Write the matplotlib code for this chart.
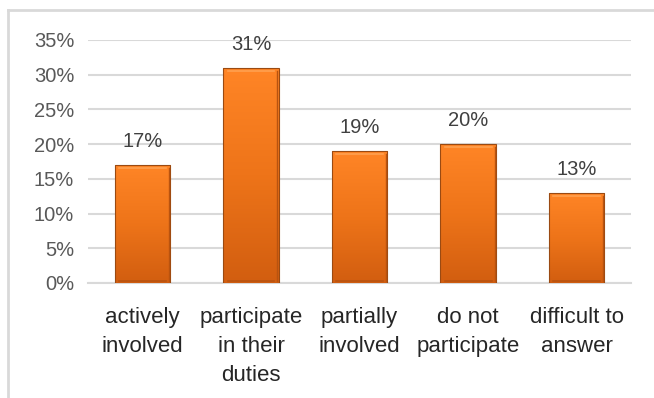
import numpy as np
import matplotlib.pyplot as plt
from matplotlib.colors import LinearSegmentedColormap
from matplotlib.patches import Rectangle

categories = ['actively\ninvolved', 'participate\nin their\nduties', 'partially\ninvolved',
              'do not\nparticipate', 'difficult to\nanswer']
values = [0.17, 0.31, 0.19, 0.20, 0.13]
labels = ['17%', '31%', '19%', '20%', '13%']
yticks = [0, 0.05, 0.10, 0.15, 0.20, 0.25, 0.30, 0.35]
ytick_labels = ['0%', '5%', '10%', '15%', '20%', '25%', '30%', '35%']

plt.rcParams['font.family'] = ['Liberation Sans Narrow', 'Liberation Sans', 'DejaVu Sans']

fig = plt.figure(figsize=(6.54, 3.98), dpi=100)
ax = fig.add_axes([0.1346, 0.289, 0.965 - 0.1346, 0.8995 - 0.289])

# light frame around the chart (cut at right and bottom like the screenshot)
fig.add_artist(plt.Line2D([8 / 654, 8 / 654], [0, 1 - 10 / 398], transform=fig.transFigure,
                          color='#d9d9d9', lw=2))
fig.add_artist(plt.Line2D([8 / 654, 1], [1 - 10 / 398, 1 - 10 / 398], transform=fig.transFigure,
                          color='#d9d9d9', lw=2))

x = np.arange(len(values))
width = 0.51
bars = ax.bar(x, values, width=width, color='#f07a1c', edgecolor='none', zorder=2)

cmap = LinearSegmentedColormap.from_list('org', ['#d25e10', '#ee7419', '#ff8526'])
grad = np.linspace(0, 1, 100).reshape(-1, 1)
for b in bars:
    x0, w, h = b.get_x(), b.get_width(), b.get_height()
    im = ax.imshow(grad, cmap=cmap, origin='lower', aspect='auto',
                   extent=[x0, x0 + w, 0, h], zorder=3)
    im.set_clip_path(b)
    # bevel edges
    ax.add_patch(Rectangle((x0, 0), w, h, fill=False, edgecolor='#9a4a12', lw=0.8, zorder=4))
    ax.plot([x0 + 0.04, x0 + w - 0.04], [h - 0.004, h - 0.004], color='#ffa050', lw=1.2, zorder=4)
    ax.plot([x0 + 0.04, x0 + w - 0.04], [0.003, 0.003], color='#b9530f', lw=1.2, zorder=4)
    ax.plot([x0 + w - 0.012, x0 + w - 0.012], [0.003, h - 0.004], color='#b9530f', lw=1.0, zorder=4)

for xi, v, lab in zip(x, values, labels):
    ax.annotate(lab, (xi, v), xytext=(0, 10), textcoords='offset points',
                ha='center', va='bottom', fontsize=14.5, color='#404040')

ax.set_xlim(-0.5, len(values) - 0.5)
ax.set_ylim(0, 0.35)
ax.set_yticks(yticks)
ax.set_yticklabels(ytick_labels, fontsize=14.5, color='#595959')
ax.set_xticks(x)
ax.set_xticklabels(categories, fontsize=16, color='#262626', linespacing=1.5, va='top')
ax.tick_params(axis='both', length=0)
ax.tick_params(axis='x', pad=17)
ax.tick_params(axis='y', pad=10)
ax.grid(axis='y', color='#d9d9d9', lw=1.5, zorder=0)
ax.set_axisbelow(True)
for s in ['top', 'right', 'left']:
    ax.spines[s].set_visible(False)
ax.spines['bottom'].set_color('#d9d9d9')
ax.spines['bottom'].set_linewidth(1.5)

fig.savefig('out.png', dpi=100)
